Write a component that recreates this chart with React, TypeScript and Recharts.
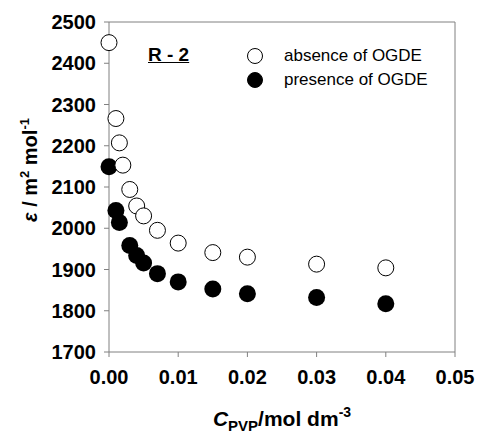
import { Label, Legend, ReferenceLine, Scatter, ScatterChart, XAxis, YAxis } from 'recharts'

const concAbsence = [0, 0.001, 0.0015, 0.002, 0.003, 0.004, 0.005, 0.007, 0.01, 0.015, 0.02, 0.03, 0.04]
const epsAbsence = [2450, 2266, 2207, 2153, 2094, 2054, 2030, 1995, 1964, 1941, 1930, 1913, 1904]
const concPresence = [0, 0.001, 0.0015, 0.003, 0.004, 0.005, 0.007, 0.01, 0.015, 0.02, 0.03, 0.04]
const epsPresence = [2149, 2043, 2014, 1958, 1934, 1916, 1890, 1870, 1853, 1841, 1832, 1817]
const xTicks = [0, 0.01, 0.02, 0.03, 0.04, 0.05]
const yTicks = [1700, 1800, 1900, 2000, 2100, 2200, 2300, 2400, 2500]
const seriesNames = ['absence of OGDE', 'presence of OGDE']

const FONT = '"Liberation Sans", Arial, sans-serif'
const AXIS = '#808080'

const absenceData = concAbsence.map((x, i) => ({ x, y: epsAbsence[i] }))
const presenceData = concPresence.map((x, i) => ({ x, y: epsPresence[i] }))

const openDot = (p: any) => <circle cx={p.cx} cy={p.cy} r={8} fill="#fff" stroke="#000" strokeWidth={1} />
const filledDot = (p: any) => <circle cx={p.cx} cy={p.cy} r={8.5} fill="#000" />

function renderLegend() {
  return (
    <div style={{ fontFamily: FONT, fontSize: 17, color: '#000' }}>
      {seriesNames.map((name, i) => (
        <div key={name} style={{ display: 'flex', alignItems: 'center', height: 24 }}>
          <svg width={18} height={18} style={{ marginRight: 20 }}>
            <circle cx={9} cy={9} r={7.5} fill={i === 0 ? '#fff' : '#000'} stroke="#000" strokeWidth={1} />
          </svg>
          <span>{name}</span>
        </div>
      ))}
    </div>
  )
}

function XTitle({ viewBox }: any) {
  const cx = viewBox.x + viewBox.width / 2
  return (
    <text x={cx} y={426} textAnchor="middle" fontFamily={FONT} fontWeight="bold" fontSize={21} fill="#000">
      <tspan fontStyle="italic">C</tspan>
      <tspan fontSize={15} dy={5}>PVP</tspan>
      <tspan dy={-5}>/mol dm</tspan>
      <tspan fontSize={14} dy={-9}>-3</tspan>
    </text>
  )
}

function YTitle() {
  const cy = 170
  return (
    <text
      x={37}
      y={cy}
      transform={`rotate(-90 37 ${cy})`}
      textAnchor="middle"
      fontFamily={FONT}
      fontWeight="bold"
      fontSize={20}
      fill="#000"
    >
      <tspan fontStyle="italic">ε</tspan>
      <tspan> / m</tspan>
      <tspan fontSize={13} dy={-8}>2</tspan>
      <tspan dy={8}> mol</tspan>
      <tspan fontSize={13} dy={-8}>-1</tspan>
    </text>
  )
}

export default function App() {
  return (
    <div style={{ position: 'absolute', left: 0, top: 0, width: 477, height: 439, background: '#fff' }}>
      <ScatterChart width={477} height={439} margin={{ top: 22, right: 22, bottom: 0, left: 0 }}>
        <XAxis
          type="number"
          dataKey="x"
          domain={[0, 0.05]}
          ticks={xTicks}
          tickFormatter={(v: number) => v.toFixed(2)}
          height={87}
          stroke={AXIS}
          tickSize={5}
          tickMargin={13}
          tick={{ fill: '#000', fontFamily: FONT, fontWeight: 'bold', fontSize: 20 }}
        >
          <Label content={<XTitle />} />
        </XAxis>
        <YAxis
          type="number"
          dataKey="y"
          domain={[1700, 2500]}
          ticks={yTicks}
          width={109}
          stroke={AXIS}
          tickSize={5}
          tickMargin={8}
          tick={{ fill: '#000', fontFamily: FONT, fontWeight: 'bold', fontSize: 20 }}
        >
          <Label content={<YTitle />} />
        </YAxis>
        <ReferenceLine y={2500} stroke={AXIS} />
        <ReferenceLine x={0.05} stroke={AXIS} />
        <Legend
          layout="vertical"
          align="center"
          verticalAlign="middle"
          content={renderLegend}
          wrapperStyle={{ left: 246, top: 44, width: 200 }}
        />
        <Scatter name={seriesNames[1]} data={presenceData} shape={filledDot} isAnimationActive={false} />
        <Scatter name={seriesNames[0]} data={absenceData} shape={openDot} isAnimationActive={false} />
      </ScatterChart>
      <div
        style={{
          position: 'absolute',
          left: 148,
          top: 44,
          fontFamily: FONT,
          fontWeight: 'bold',
          fontSize: 19,
          textDecoration: 'underline',
        }}
      >
        R - 2
      </div>
    </div>
  )
}
